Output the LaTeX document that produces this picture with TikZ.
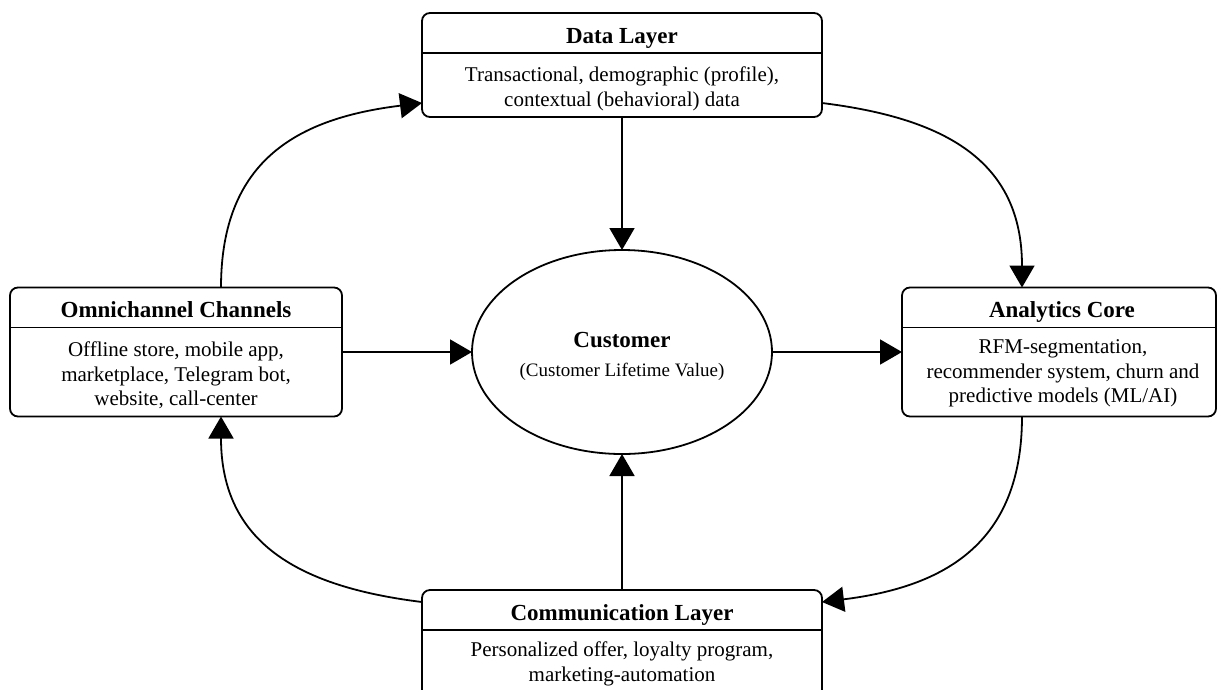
\documentclass[tikz,border=0pt]{standalone}
\usepackage{fontspec}
\setmainfont{Liberation Serif}
\usetikzlibrary{arrows.meta,shapes.geometric}
\begin{document}
\begin{tikzpicture}[x=1pt,y=-1pt,
  box/.style={draw, line width=1.8pt, rounded corners=8pt, inner sep=0pt, outer sep=0pt},
  ell/.style={draw, ellipse, line width=1.8pt, inner sep=0pt, outer sep=0pt},
  divline/.style={line width=1.6pt},
  ttl/.style={font=\fontsize{23}{27}\selectfont\bfseries, inner sep=0pt, anchor=base},
  body/.style={font=\fontsize{21}{24.5}\selectfont, align=center, inner sep=0pt},
  sub/.style={font=\fontsize{19}{23}\selectfont, inner sep=0pt, anchor=base},
  conn/.style={line width=1.8pt, -{Triangle[length=22pt,width=25pt]}}]
\useasboundingbox (0,0) rectangle (1217,689);
\clip (0,0) rectangle (1217,689);
\fill[white] (0,0) rectangle (1217,689);

% boxes
\node[box, minimum width=400pt, minimum height=104pt] (data) at (622,65) {};
\node[box, minimum width=332pt, minimum height=129pt] (omni) at (176,352) {};
\node[box, minimum width=314pt, minimum height=129pt] (ana) at (1059,352) {};
\node[box, minimum width=400pt, minimum height=110pt] (comm) at (622,645) {};
\node[ell, minimum width=300pt, minimum height=204pt] (cust) at (622,352) {};

% dividers
\draw[divline] ([yshift=-40pt]data.north west) -- ([yshift=-40pt]data.north east);
\draw[divline] ([yshift=-40pt]omni.north west) -- ([yshift=-40pt]omni.north east);
\draw[divline] ([yshift=-40pt]ana.north west) -- ([yshift=-40pt]ana.north east);
\draw[divline] ([yshift=-40pt]comm.north west) -- ([yshift=-40pt]comm.north east);

% titles
\node[ttl] (dataT) at ([yshift=-30pt]data.north) {Data Layer};
\node[ttl] (omniT) at ([yshift=-30pt]omni.north) {Omnichannel Channels};
\node[ttl] (anaT) at ([xshift=3pt,yshift=-30pt]ana.north) {Analytics Core};
\node[ttl] (commT) at ([yshift=-30pt]comm.north) {Communication Layer};

% bodies
\node[body] (dataB) at ([yshift=-76pt]data.north) {Transactional, demographic (profile),\\contextual (behavioral) data};
\node[body] (omniB) at ([yshift=-88pt]omni.north) {Offline store, mobile app,\\marketplace, Telegram bot,\\website, call-center};
\node[body] (anaB) at ([xshift=4pt,yshift=-86pt]ana.north) {RFM-segmentation,\\recommender system, churn and\\predictive models (ML/AI)};
\node[body] (commB) at ([yshift=-74pt]comm.north) {Personalized offer, loyalty program,\\marketing-automation};

% customer text
\node[ttl] (custT) at ([yshift=5pt]cust.center) {Customer};
\node[sub] (custS) at ([yshift=-24pt]cust.center) {(Customer Lifetime Value)};

% straight connectors
\draw[conn] (data.south) -- (cust.north);
\draw[conn] (comm.north) -- (cust.south);
\draw[conn] (omni.east) -- (cust.west);
\draw[conn] (cust.east) -- (ana.west);

% curved connectors
\draw[conn] ([xshift=45pt]omni.north) .. controls +(0,-129) and +(-122,15) .. ([yshift=-38pt]data.west);
\draw[conn] ([yshift=-38pt]data.east) .. controls +(121,15) and +(0,-128) .. ([xshift=-37pt]ana.north);
\draw[conn] ([xshift=-37pt]ana.south) .. controls +(0,128) and +(121,-15) .. ([yshift=43pt]comm.east);
\draw[conn] ([yshift=43pt]comm.west) .. controls +(-122,-15) and +(0,127) .. ([xshift=45pt]omni.south);
\end{tikzpicture}
\end{document}
